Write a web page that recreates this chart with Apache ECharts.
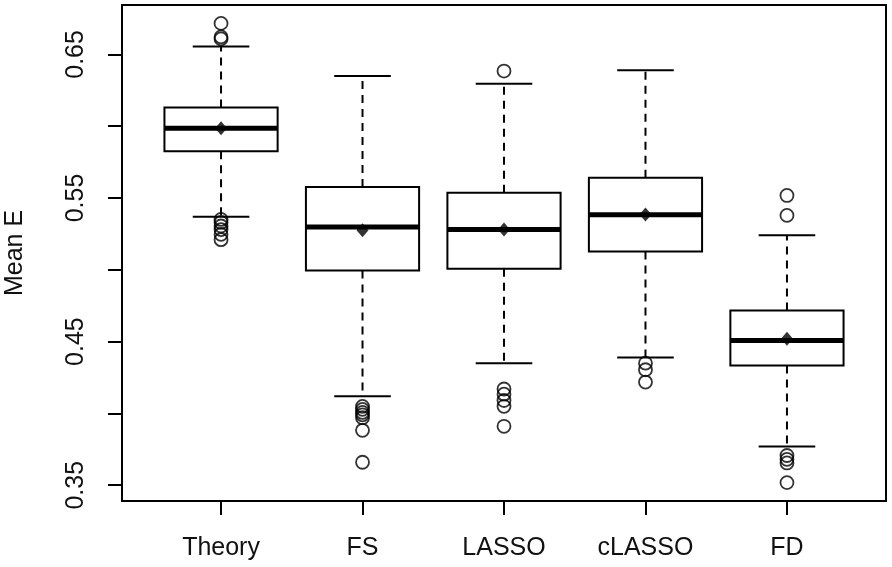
<!DOCTYPE html>
<html>
<head>
<meta charset="utf-8">
<script src="https://cdn.jsdelivr.net/npm/echarts@6/dist/echarts.min.js"></script>
<style>
html,body{margin:0;padding:0;background:#fff;}
#chart{width:892px;height:567px;}
</style>
</head>
<body>
<div id="chart"></div>
<script>
const categories = ['Theory', 'FS', 'LASSO', 'cLASSO', 'FD'];
const whiskerLow  = [0.537, 0.412, 0.435, 0.439, 0.377];
const q1          = [0.5825, 0.4995, 0.5008, 0.5128, 0.4334];
const medians     = [0.5985, 0.5298, 0.5281, 0.5384, 0.4508];
const q3          = [0.6130, 0.5576, 0.5537, 0.5641, 0.4717];
const whiskerHigh = [0.6555, 0.6350, 0.6296, 0.6389, 0.5240];
const means       = [0.5985, 0.5275, 0.5281, 0.5385, 0.4520];
const outliers = [
  [0.6716, 0.6622, 0.6608, 0.5351, 0.5330, 0.5305, 0.5280, 0.5247, 0.5210],
  [0.4049, 0.4028, 0.4007, 0.3990, 0.3970, 0.3882, 0.3660],
  [0.6384, 0.4170, 0.4134, 0.4090, 0.4049, 0.3910],
  [0.4350, 0.4304, 0.4218],
  [0.5518, 0.5379, 0.3707, 0.3680, 0.3655, 0.3518]
];
const yTicks = [0.35, 0.40, 0.45, 0.50, 0.55, 0.60, 0.65];
const yLabels = [0.35, 0.45, 0.55, 0.65];
const xTicks = [1, 2, 3, 4, 5];

const boxData = categories.map((c, i) => [i + 1, whiskerLow[i], q1[i], medians[i], q3[i], whiskerHigh[i]]);
const meanData = means.map((m, i) => [i + 1, m]);
const outlierData = [];
outliers.forEach((arr, i) => arr.forEach(v => outlierData.push([i + 1, v])));

const FONT = '"Liberation Sans", Arial, Helvetica, sans-serif';
const chart = echarts.init(document.getElementById('chart'));

function renderBox(params, api) {
  const x = api.value(0);
  const lo = api.value(1), a = api.value(2), md = api.value(3), b = api.value(4), hi = api.value(5);
  const c = api.coord([x, md])[0];
  const L = api.coord([x - 0.4, md])[0], R = api.coord([x + 0.4, md])[0];
  const cL = api.coord([x - 0.2, md])[0], cR = api.coord([x + 0.2, md])[0];
  const yLo = api.coord([x, lo])[1], yA = api.coord([x, a])[1], yM = api.coord([x, md])[1];
  const yB = api.coord([x, b])[1], yHi = api.coord([x, hi])[1];
  const solid = {stroke: '#000', lineWidth: 2, fill: null};
  const dashed = {stroke: '#000', lineWidth: 2, lineDash: [8, 6], fill: null};
  return {
    type: 'group',
    children: [
      {type: 'line', shape: {x1: c, y1: yB, x2: c, y2: yHi}, style: dashed},
      {type: 'line', shape: {x1: c, y1: yA, x2: c, y2: yLo}, style: dashed},
      {type: 'line', shape: {x1: cL, y1: yHi, x2: cR, y2: yHi}, style: solid},
      {type: 'line', shape: {x1: cL, y1: yLo, x2: cR, y2: yLo}, style: solid},
      {type: 'rect', shape: {x: L, y: yB, width: R - L, height: yA - yB}, style: {fill: '#fff', stroke: '#000', lineWidth: 2}},
      {type: 'line', shape: {x1: L, y1: yM, x2: R, y2: yM}, style: {stroke: '#000', lineWidth: 5}}
    ]
  };
}

chart.setOption({
  animation: false,
  backgroundColor: '#fff',
  grid: {left: 122, right: 6, top: 5, bottom: 66, show: true, borderColor: '#000', borderWidth: 2,
         backgroundColor: 'transparent', containLabel: false, outerBoundsMode: 'none'},
  xAxis: {
    type: 'value', min: 0.3, max: 5.7,
    axisLine: {show: false},
    splitLine: {show: false},
    axisTick: {show: true, length: 14, customValues: xTicks, lineStyle: {color: '#000', width: 2}},
    axisLabel: {
      customValues: xTicks, margin: 35, color: '#111', fontSize: 25, fontFamily: FONT,
      formatter: v => categories[Math.round(v) - 1] || ''
    }
  },
  yAxis: {
    type: 'value', min: 0.339, max: 0.6844,
    name: 'Mean E', nameLocation: 'middle', nameRotate: 90, nameGap: 94,
    nameTextStyle: {color: '#111', fontSize: 25, fontFamily: FONT},
    axisLine: {show: false},
    splitLine: {show: false},
    axisTick: {show: true, length: 14, customValues: yTicks, lineStyle: {color: '#000', width: 2}},
    axisLabel: {
      customValues: yLabels, rotate: 90, margin: 33, color: '#111', fontSize: 25, fontFamily: FONT,
      formatter: v => v.toFixed(2)
    }
  },
  series: [
    {type: 'custom', renderItem: renderBox, data: boxData, encode: {x: 0, y: [1, 2, 3, 4, 5]}, z: 2, silent: true},
    {type: 'scatter', data: outlierData, symbol: 'circle', symbolSize: 13, z: 3, silent: true,
     itemStyle: {color: 'rgba(0,0,0,0)', borderColor: '#000', borderWidth: 1.8}},
    {type: 'scatter', data: meanData, symbol: 'diamond', symbolSize: [12, 14], z: 4, silent: true,
     itemStyle: {color: '#000'}}
  ]
});
</script>
</body>
</html>
